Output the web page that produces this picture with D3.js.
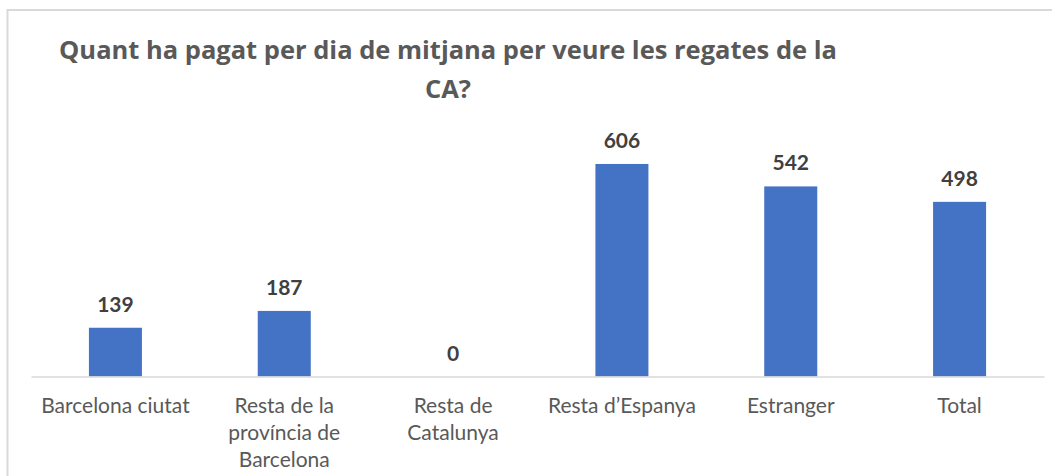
<!DOCTYPE html>
<html>
<head>
<meta charset="utf-8">
<script src="https://cdn.jsdelivr.net/npm/d3@7"></script>
<style>
  body { margin: 0; background: #fff; }
  text { font-family: Lato, "Open Sans", sans-serif; }
</style>
</head>
<body>
<script>
var titleLines = ["Quant ha pagat per dia de mitjana per veure les regates de la", "CA?"]
var categories = ["Barcelona ciutat", "Resta de la província de Barcelona", "Resta de Catalunya", "Resta d\u2019Espanya", "Estranger", "Total"]
var values = [139, 187, 0, 606, 542, 498]

var width = 1052
var height = 476

var svg = d3.select("body")
    .append("svg")
        .attr("width", width)
        .attr("height", height)

// chart frame
svg.append("rect")
    .attr("x", 7.5)
    .attr("y", 10)
    .attr("width", 1100)
    .attr("height", 600)
    .attr("fill", "none")
    .attr("stroke", "#d9d9d9")
    .attr("stroke-width", 2)

var x = d3.scaleBand()
    .domain(categories)
    .range([31, 1044])
    .paddingInner(0.686)
    .paddingOuter(0.343)

var y = d3.scaleLinear()
    .domain([0, 700])
    .range([376.5, 131])

// title
svg.append("text")
    .attr("text-anchor", "middle")
    .attr("fill", "#595959")
    .style("font-family", "'Open Sans', Lato, sans-serif")
    .style("font-size", "25.5px")
    .style("font-weight", "bold")
    .selectAll("tspan")
    .data(titleLines)
    .enter()
    .append("tspan")
        .attr("x", 448)
        .attr("y", function(d, i) { return 58.5 + i * 39 })
        .text(function(d) { return d })

// bars
svg.selectAll("rect.bar")
    .data(values)
    .enter()
    .append("rect")
        .attr("class", "bar")
        .attr("x", function(d, i) { return x(categories[i]) })
        .attr("width", x.bandwidth())
        .attr("y", function(d) { return y(d) })
        .attr("height", function(d) { return y(0) - y(d) })
        .attr("fill", "#4472c4")

// axis line
var axis = svg.append("g")
    .attr("transform", "translate(0," + y(0) + ")")
    .call(d3.axisBottom(x).tickSize(0).tickFormat(""))
axis.select(".domain").attr("stroke", "#d9d9d9").attr("stroke-width", 1.5)

// value labels
svg.selectAll("text.val")
    .data(values)
    .enter()
    .append("text")
        .attr("class", "val")
        .attr("x", function(d, i) { return x(categories[i]) + x.bandwidth() / 2 })
        .attr("y", function(d) { return y(d) - 16 })
        .attr("text-anchor", "middle")
        .attr("fill", "#404040")
        .style("font-size", "21px")
        .style("font-weight", "bold")
        .text(function(d) { return d })

// category labels, wrapped
function wrap(str, maxW, measure) {
    var words = str.split(" "), lines = [], line = []
    words.forEach(function(w) {
        var test = line.concat([w]).join(" ")
        if (line.length && measure(test) > maxW) {
            lines.push(line.join(" "))
            line = [w]
        } else {
            line.push(w)
        }
    })
    lines.push(line.join(" "))
    return lines
}

var probe = svg.append("text").style("font-size", "21px")
function measure(s) { probe.text(s); return probe.node().getComputedTextLength() }

categories.forEach(function(c) {
    var lines = wrap(c, 158, measure)
    svg.append("text")
        .attr("text-anchor", "middle")
        .attr("fill", "#595959")
        .style("font-size", "21px")
        .selectAll("tspan")
        .data(lines)
        .enter()
        .append("tspan")
            .attr("x", x(c) + x.bandwidth() / 2)
            .attr("y", function(d, i) { return 412.5 + i * 27 })
            .text(function(d) { return d })
})
probe.remove()
</script>
</body>
</html>
